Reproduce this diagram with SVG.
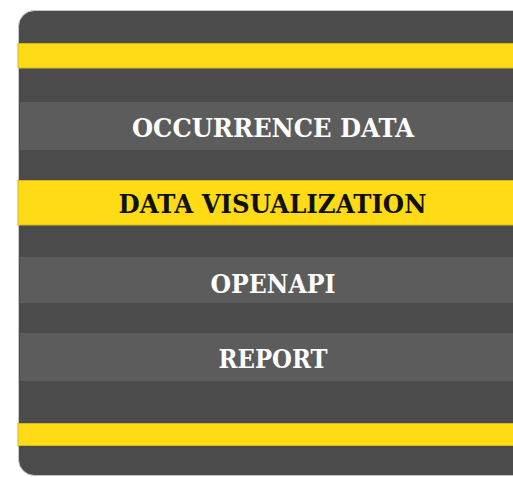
<svg xmlns="http://www.w3.org/2000/svg" width="513" height="477" viewBox="0 0 513 477">
  <style>
    .panel { fill: #4b4b4b; stroke: #c8c8c8; stroke-width: 1; }
    .light { fill: #5c5c5c; }
    .yellow { fill: #fedb14; stroke: #d6b820; stroke-width: 1; }
    .lbl { font-family: "DejaVu Serif", "Liberation Serif", serif; font-weight: bold; font-size: 26px; text-anchor: middle; }
    .w { fill: #ffffff; }
    .k { fill: #111111; }
  </style>
  <rect width="513" height="477" fill="#ffffff"/>
  <rect class="panel" x="18.5" y="10.5" width="520" height="465" rx="16" ry="16"/>
  <rect class="yellow" x="18" y="43.5" width="500" height="24.5"/>
  <rect class="yellow" x="18" y="423.5" width="500" height="22"/>
  <g id="node-occurrence-data">
    <rect class="light" x="20" y="102" width="500" height="48"/>
    <text class="lbl w" x="273" y="137" textLength="282" lengthAdjust="spacingAndGlyphs">OCCURRENCE DATA</text>
  </g>
  <g id="node-data-visualization">
    <rect class="yellow" x="18" y="180.5" width="500" height="44.5"/>
    <text class="lbl k" x="272.5" y="213" textLength="308" lengthAdjust="spacingAndGlyphs">DATA VISUALIZATION</text>
  </g>
  <g id="node-openapi">
    <rect class="light" x="20" y="257" width="500" height="46"/>
    <text class="lbl w" x="273" y="292.5" textLength="125" lengthAdjust="spacingAndGlyphs">OPENAPI</text>
  </g>
  <g id="node-report">
    <rect class="light" x="20" y="333" width="500" height="48"/>
    <text class="lbl w" x="273" y="368" textLength="109" lengthAdjust="spacingAndGlyphs">REPORT</text>
  </g>
</svg>
